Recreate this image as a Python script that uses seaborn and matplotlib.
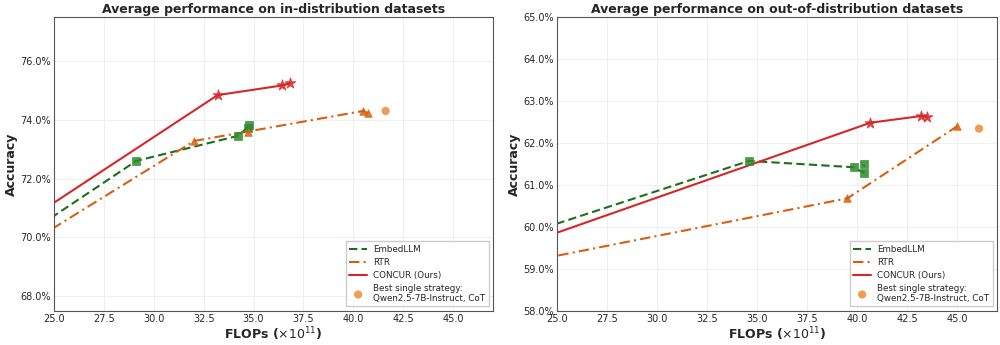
import seaborn as sns
import pandas as pd
import matplotlib.pyplot as plt
from matplotlib.ticker import FuncFormatter, MultipleLocator

# in-distribution
id_embed_x = [22.0, 29.12, 34.2, 34.7, 34.75]
id_embed_y = [69.37, 72.60, 73.45, 73.73, 73.81]
id_rtr_x = [22.0, 32.03, 34.7, 40.49, 40.74]
id_rtr_y = [69.07, 73.28, 73.60, 74.30, 74.22]
id_concur_x = [22.0, 33.2, 36.45, 36.82]
id_concur_y = [69.84, 74.84, 75.17, 75.24]
id_best = (41.62, 74.30)

# out-of-distribution
ood_embed_x = [22.0, 34.6, 39.83, 40.33, 40.35]
ood_embed_y = [59.61, 61.57, 61.42, 61.29, 61.49]
ood_rtr_x = [22.0, 39.52, 45.02]
ood_rtr_y = [59.03, 60.68, 62.40]
ood_concur_x = [22.0, 40.67, 43.22, 43.52]
ood_concur_y = [59.36, 62.48, 62.64, 62.62]
ood_best = (46.1, 62.34)

GREEN = "#1a701a"
GREEN_M = "#2e8b2e"
RTR_C = "#d95f0e"
RED = "#d62728"
BEST_C = "#f0913f"

sns.set_style("whitegrid")
plt.rcParams["font.family"] = ["DejaVu Sans"]

fig = plt.figure(figsize=(10, 3.45), dpi=100)
ax1 = fig.add_axes([0.054, 0.099, 0.439, 0.852])
ax2 = fig.add_axes([0.557, 0.099, 0.440, 0.852])


def panel(ax, ex, ey, rx, ry, cx, cy, best, title, ylim, ystep):
    series = [
        ("EmbedLLM", ex, ey, GREEN, GREEN_M, (0, (4, 2)), "s", 30),
        ("RTR", rx, ry, RTR_C, RTR_C, (0, (5, 2, 1, 2)), "^", 30),
        ("CONCUR (Ours)", cx, cy, RED, RED, "-", "*", 70),
    ]
    for name, xs, ys, lc, mc, ls, mk, ms in series:
        df = pd.DataFrame({"x": xs, "y": ys})
        sns.lineplot(data=df, x="x", y="y", ax=ax, color=lc, linestyle=ls,
                     linewidth=1.5, sort=False, label=name, estimator=None)
        sns.scatterplot(data=df.iloc[1:], x="x", y="y", ax=ax, color=mc,
                        marker=mk, s=ms, alpha=0.85, edgecolor=mc,
                        linewidth=0.5, zorder=3, legend=False)
    sns.scatterplot(x=[best[0]], y=[best[1]], ax=ax, color=BEST_C, s=35,
                    edgecolor="none", alpha=0.9,
                    label="Best single strategy:\nQwen2.5-7B-Instruct, CoT", zorder=3)
    ax.set_xlim(25, 47)
    ax.set_ylim(*ylim)
    ax.xaxis.set_major_locator(MultipleLocator(2.5))
    ax.yaxis.set_major_locator(MultipleLocator(ystep))
    ax.yaxis.set_major_formatter(FuncFormatter(lambda v, p: f"{v:.1f}%"))
    ax.set_title(title, fontsize=9, fontweight="bold", pad=3)
    ax.set_xlabel(r"FLOPs ($\times 10^{11}$)", fontsize=9, fontweight="bold", labelpad=1)
    ax.set_ylabel("Accuracy", fontsize=9, fontweight="bold", labelpad=2)
    ax.tick_params(labelsize=7, pad=2, length=0)
    ax.grid(color="#ececec", linewidth=0.6)
    for s in ax.spines.values():
        s.set_color("#555555")
        s.set_linewidth(0.8)
    ax.legend(loc="lower right", fontsize=6.3, frameon=True, fancybox=False,
              edgecolor="#cccccc", framealpha=1, borderpad=0.4,
              labelspacing=0.45, handlelength=2.0, handletextpad=0.7)


panel(ax1, id_embed_x, id_embed_y, id_rtr_x, id_rtr_y, id_concur_x, id_concur_y,
      id_best, "Average performance on in-distribution datasets", (67.5, 77.5), 2)
panel(ax2, ood_embed_x, ood_embed_y, ood_rtr_x, ood_rtr_y, ood_concur_x, ood_concur_y,
      ood_best, "Average performance on out-of-distribution datasets", (58, 65), 1)

fig.savefig("out.png", dpi=100)
